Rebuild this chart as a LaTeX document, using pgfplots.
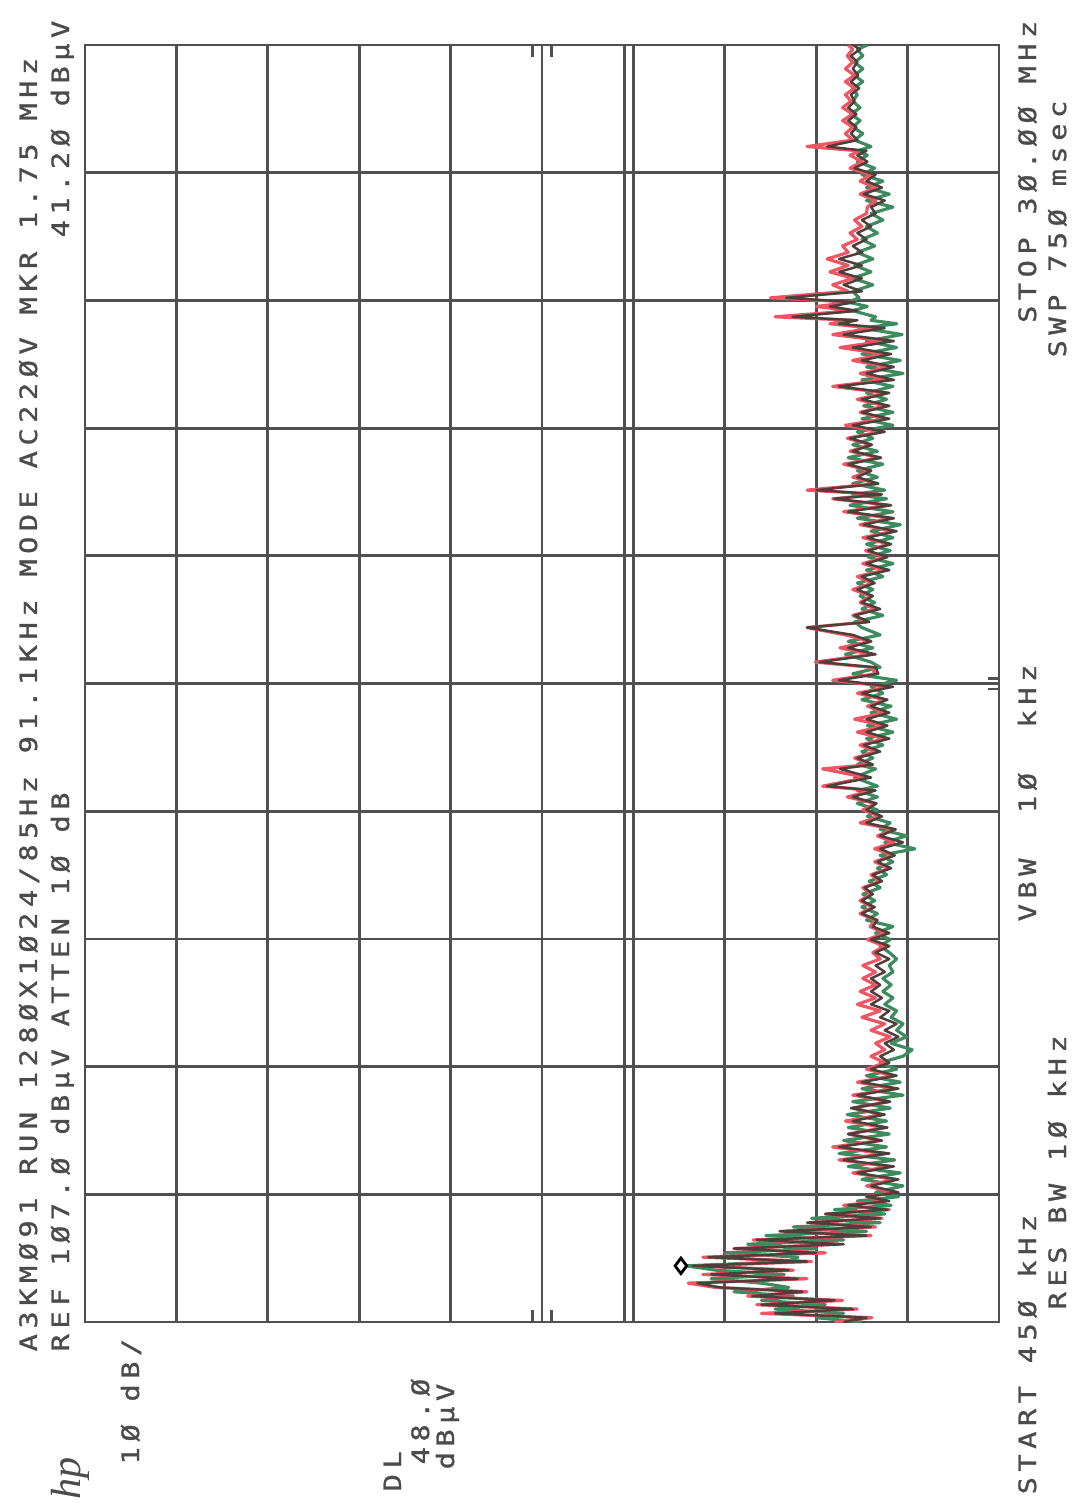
\documentclass[border=0pt]{standalone}
\usepackage{fontspec}
\usepackage{pgfplots}
\usepackage{pgfplotstable}
\pgfplotsset{compat=1.18}
\setmainfont{DejaVu Sans Mono}
\newfontfamily\hpfont[LetterSpace=23, FakeStretch=1.2, FakeBold=1.2]{DejaVu Sans Mono}
\newfontfamily\logofont{Liberation Serif}
\definecolor{tred}{RGB}{240,85,100}
\definecolor{tgreen}{RGB}{60,140,95}
\definecolor{tdark}{RGB}{80,62,58}
\definecolor{gridc}{RGB}{80,80,80}
\definecolor{txt}{RGB}{75,75,75}

\pgfplotstableread{
f r g d
0.45 25.0 22.0 24.0
0.55 20.9 27.0 21.5
0.65 33.0 24.0 31.5
0.75 22.5 31.5 23.0
0.85 33.5 26.0 33.0
0.95 24.1 33.0 25.0
1.05 34.5 29.5 34.0
1.15 28.0 36.0 28.5
1.25 38.0 30.0 37.5
1.35 41.0 33.0 40.0
1.45 28.0 38.5 29.0
1.55 39.4 30.5 38.5
1.65 29.5 38.0 30.0
1.75 40.0 41.2 40.5
1.85 27.5 30.0 28.0
1.95 39.4 29.0 38.8
2.05 26.0 37.0 27.0
2.15 36.0 27.0 36.0
2.25 24.5 34.5 24.0
2.35 33.9 24.0 33.5
2.45 21.0 32.5 21.5
2.55 30.6 21.5 31.0
2.65 20.5 29.5 21.0
2.75 27.7 20.0 28.0
2.85 19.8 27.5 20.0
2.95 26.0 19.5 26.0
3.05 19.0 25.0 19.2
3.15 24.0 18.8 23.5
3.25 19.5 22.5 19.0
3.35 21.5 18.0 21.5
3.45 18.5 20.5 18.0
3.60 21.5 17.5 21.0
3.75 18.5 22.0 18.0
3.90 23.0 17.8 22.5
4.05 19.0 23.5 18.5
4.20 24.5 18.4 24.0
4.35 19.5 24.5 19.0
4.50 25.2 19.3 24.5
4.65 20.0 24.0 19.8
4.80 23.5 19.0 23.5
4.95 19.5 23.5 19.2
5.10 23.8 19.3 23.0
5.25 19.8 23.6 19.5
5.40 23.0 18.9 23.2
5.55 19.0 23.0 18.9
5.70 23.0 17.5 22.5
5.85 18.5 22.0 18.0
6.00 22.5 17.8 22.0
6.15 18.5 21.5 18.2
6.30 21.5 18.2 21.0
6.45 19.5 20.0 19.0
6.60 21.0 17.5 20.0
6.75 19.5 16.5 18.5
6.90 20.5 18.8 19.5
7.05 18.9 17.1 18.0
7.20 21.0 18.2 19.5
7.35 19.5 17.5 18.2
7.50 22.0 18.8 20.0
7.65 20.0 18.2 19.0
7.80 22.5 19.5 21.0
7.95 20.5 18.6 19.8
8.10 22.2 19.7 21.0
8.25 20.5 18.8 20.0
8.40 21.9 19.7 21.0
8.55 20.5 18.6 19.5
8.70 21.9 19.0 20.5
8.85 20.0 18.2 19.0
9.00 20.8 19.0 20.5
9.15 19.5 20.0 19.0
9.30 21.4 18.9 21.0
9.45 19.5 20.5 19.0
9.60 21.1 18.6 20.8
9.75 20.5 21.5 20.3
9.90 22.2 20.3 22.0
10.05 20.8 22.0 20.6
10.20 22.2 20.6 22.0
10.35 21.0 21.9 20.8
10.50 21.9 20.0 21.7
10.65 20.0 21.2 19.8
10.80 21.0 19.3 20.8
10.95 19.0 20.3 18.8
11.10 20.6 18.6 20.3
11.25 18.5 20.0 18.4
11.40 20.6 16.2 20.0
11.55 18.5 19.5 17.5
11.70 20.3 17.1 20.0
11.85 18.5 20.0 18.3
12.00 22.2 18.9 21.5
12.15 20.0 21.4 19.8
12.30 21.9 20.3 21.5
12.45 20.5 22.5 20.4
12.60 23.6 20.3 23.0
12.75 20.8 22.5 20.5
12.85 26.3 20.3 25.8
13.05 21.5 22.8 21.0
13.25 26.3 20.5 24.4
13.35 21.0 22.5 20.8
13.50 22.8 20.8 22.5
13.65 20.5 22.0 20.0
13.80 22.2 19.7 21.8
13.95 19.5 21.5 19.0
14.10 22.5 18.6 21.5
14.25 19.5 21.4 19.2
14.40 22.8 18.2 21.5
14.55 19.5 21.0 19.0
14.70 21.4 18.8 21.0
14.85 19.5 22.0 19.2
15.00 22.5 19.7 22.0
15.15 19.0 21.0 18.6
15.30 25.2 18.2 24.5
15.45 20.5 23.0 20.2
15.60 21.0 20.0 20.5
15.72 27.1 21.0 26.6
15.90 21.0 23.8 20.5
16.05 24.4 20.8 23.5
16.20 21.0 23.5 21.0
16.35 23.8 20.0 23.0
16.52 28.0 22.0 28.0
16.65 21.5 22.8 21.2
16.80 23.0 19.7 22.8
16.95 20.5 22.0 20.0
17.10 22.2 20.6 22.0
17.25 21.0 22.2 20.8
17.40 23.0 20.8 22.5
17.55 20.8 22.5 20.6
17.70 22.5 19.7 22.0
17.85 19.5 21.5 19.0
18.00 21.9 18.6 21.5
18.15 19.5 21.3 19.2
18.30 21.6 18.9 21.3
18.45 19.0 21.5 18.8
18.60 21.9 18.6 21.4
18.75 18.5 21.0 18.2
18.90 22.2 17.8 21.8
19.05 18.8 22.5 18.5
19.20 24.0 18.6 23.5
19.35 19.0 23.3 18.8
19.50 25.2 19.3 25.0
19.60 20.0 23.0 19.8
19.70 28.0 19.5 27.0
19.85 20.3 23.0 20.2
20.00 23.0 20.3 22.5
20.15 21.0 22.5 21.0
20.30 24.0 19.7 23.5
20.45 20.0 23.5 19.9
20.60 23.3 20.3 23.0
20.75 21.0 23.0 20.9
20.90 23.6 20.8 23.3
21.05 20.0 22.5 19.5
21.20 23.8 18.6 23.0
21.35 19.5 22.0 19.0
21.50 22.2 18.6 22.0
21.65 19.5 21.8 19.0
21.80 22.5 19.3 22.0
21.95 19.3 21.5 19.0
22.10 25.2 18.6 24.5
22.25 19.5 22.0 18.5
22.40 22.2 17.5 21.5
22.55 19.0 21.5 18.5
22.70 23.0 17.8 22.0
22.85 19.5 22.0 18.8
23.00 24.4 18.2 23.0
23.15 19.5 21.5 18.5
23.30 25.2 17.6 24.0
23.45 21.0 22.0 19.5
23.55 25.5 18.2 24.5
23.63 23.0 21.0 22.5
23.71 31.5 20.5 29.6
23.85 23.0 23.0 22.5
23.95 27.0 21.4 25.5
24.05 23.0 23.5 22.8
24.15 32.0 22.3 30.3
24.30 23.5 23.0 22.0
24.45 25.2 20.8 24.0
24.60 23.0 23.0 22.0
24.75 25.5 21.0 24.5
24.90 23.5 22.8 22.0
25.05 25.8 20.8 24.5
25.20 23.5 22.5 22.0
25.35 24.1 20.6 23.0
25.50 22.5 22.0 21.5
25.65 23.3 20.3 22.5
25.80 22.0 21.5 21.0
25.95 22.8 19.7 22.0
26.10 21.5 21.0 20.5
26.25 21.4 18.6 21.0
26.40 20.5 21.5 19.5
26.55 22.2 19.0 21.8
26.70 20.5 21.5 19.8
26.85 22.2 19.7 21.5
27.00 21.0 22.0 20.5
27.15 23.3 20.6 22.8
27.30 22.0 22.5 21.4
27.45 23.3 21.4 22.5
27.55 22.2 22.5 21.5
27.65 28.0 21.0 25.8
27.80 23.0 22.8 22.5
27.95 23.8 21.9 23.2
28.10 23.0 23.0 22.6
28.25 24.1 22.2 23.5
28.40 23.0 23.2 22.6
28.55 24.1 22.2 23.5
28.70 23.2 23.0 22.8
28.85 23.8 22.5 23.2
29.00 22.8 23.0 22.3
29.15 23.8 21.9 23.2
29.30 22.8 22.8 22.4
29.45 23.8 21.9 23.0
29.60 23.0 22.8 22.5
29.75 23.6 21.9 23.2
29.90 23.0 22.5 22.2
30.00 23.5 21.4 23.0
}\spectrum

\begin{document}
\begin{tikzpicture}
\useasboundingbox (0,0) rectangle (107.9mm,-150.3mm);
\fill[white] (0,0) rectangle (107.9mm,-150.3mm);
\begin{axis}[
  at={(8.5mm,-132.2mm)}, anchor=south west,
  scale only axis, width=91.4mm, height=127.7mm,
  xmin=7, xmax=107, x dir=reverse,
  ymin=0.45, ymax=30,
  xtick={17,27,37,47,57,67,77,87,97},
  ytick={3.405,6.36,9.315,12.27,15.225,18.18,21.135,24.09,27.045},
  xticklabels={}, yticklabels={},
  major tick length=0pt,
  grid=major,
  grid style={line width=0.8pt, color=gridc},
  axis line style={line width=0.8pt, color=gridc},
]
% display line DL 48.0 dBuV
\addplot[line width=0.8pt, color=gridc] coordinates {(48,0.45) (48,30)};
% center markers
\addplot[line width=0.8pt, color=gridc] coordinates {(58,30) (58,29.72)};
\addplot[line width=0.8pt, color=gridc] coordinates {(56,30) (56,29.72)};
\addplot[line width=0.8pt, color=gridc] coordinates {(58,0.45) (58,0.73)};
\addplot[line width=0.8pt, color=gridc] coordinates {(56,0.45) (56,0.73)};
\addplot[line width=0.8pt, color=gridc] coordinates {(7,15.1) (8.2,15.1)};
\addplot[line width=0.8pt, color=gridc] coordinates {(7,15.35) (8.2,15.35)};
% traces
\addplot[color=tgreen, line width=0.9pt, line join=round] table[x=g, y=f] {\spectrum};
\addplot[color=tred, line width=0.9pt, line join=round] table[x=r, y=f] {\spectrum};
\addplot[color=tdark, line width=0.7pt, line join=round] table[x=d, y=f] {\spectrum};
% marker
\addplot[only marks, mark=diamond, mark size=2.2pt, mark options={line width=0.8pt, draw=black, fill=white}] coordinates {(41.8,1.75)};
\end{axis}
\begin{scope}[x=0.1mm, y=-0.1mm, every node/.style={inner sep=0pt, rotate=90, text=txt, font=\hpfont\fontsize{6.8}{8}\selectfont}]
\node[anchor=base west] at (37,1352) {A3KMØ91 RUN 128ØX1Ø24/85Hz 91.1KHz MODE AC22ØV MKR 1.75 MHz};
\node[anchor=base west] at (69,1352) {REF 1Ø7.Ø dBµV ATTEN 1Ø dB};
\node[anchor=base east] at (69,20) {41.2Ø dBµV};
\node[anchor=base west] at (139,1465) {1Ø dB/};
\node[anchor=base west] at (401,1492) {DL};
\node[anchor=base west] at (429,1465) {48.Ø};
\node[anchor=base west] at (454,1470) {dBµV};
\node[anchor=base west] at (1036,1495) {START 45Ø kHz};
\node[anchor=base west] at (1036,922) {VBW~~1Ø~~kHz};
\node[anchor=base east] at (1036,20) {STOP 3Ø.ØØ MHz};
\node[anchor=base west] at (1066,1310) {RES BW 1Ø kHz};
\node[anchor=base east] at (1066,100) {SWP 75Ø msec};
\node[anchor=base west, font=\logofont\itshape\fontsize{12}{14}\selectfont] at (80,1500) {hp};
\end{scope}
\end{tikzpicture}
\end{document}
